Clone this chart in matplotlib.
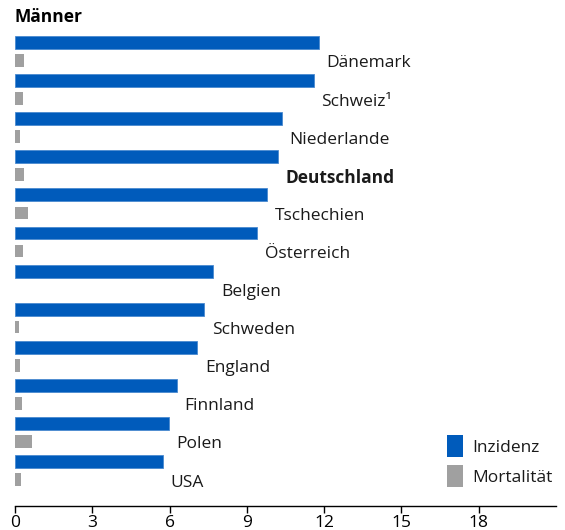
import numpy as np
import matplotlib.pyplot as plt
from matplotlib.patches import Rectangle

plt.rcParams['font.family'] = ['Open Sans', 'DejaVu Sans']

laender = ['Dänemark', 'Schweiz¹', 'Niederlande', 'Deutschland', 'Tschechien', 'Österreich',
           'Belgien', 'Schweden', 'England', 'Finnland', 'Polen', 'USA']
inzidenz = [11.8, 11.6, 10.35, 10.2, 9.8, 9.4, 7.7, 7.35, 7.07, 6.28, 5.98, 5.73]
mortalitaet = [0.34, 0.3, 0.2, 0.34, 0.5, 0.3, 0.0, 0.15, 0.19, 0.26, 0.67, 0.24]
xticks = [0, 3, 6, 9, 12, 15, 18]
legende = ['Inzidenz', 'Mortalität']

blau = '#005bbb'
grau = '#a0a0a0'
fs = 12.5

fig = plt.figure(figsize=(5.65, 5.30), dpi=100)
W, H = 565, 530
ax = fig.add_axes([15 / W, 24 / H, (556 - 15) / W, (506 - 30) / H])

y = np.arange(len(laender))
ax.barh(y, inzidenz, height=0.34, color=blau, edgecolor='#4a8ad0', linewidth=0.6)
ax.barh(y + 0.47, mortalitaet, height=0.33, color=grau, linewidth=0)

for i, (name, v) in enumerate(zip(laender, inzidenz)):
    ax.annotate(name, (v, i + 0.55), xytext=(5.5, 0), textcoords='offset points',
                va='center', ha='left', fontsize=fs, color='#1a1a1a',
                fontweight='bold' if name == 'Deutschland' else 'normal')

ax.set_xlim(0, 21)
ax.set_ylim(12.165, -0.328)
ax.set_xticks(xticks)
ax.set_xticklabels([str(t) for t in xticks], fontsize=fs)
ax.set_yticks([])
for s in ['left', 'right', 'top']:
    ax.spines[s].set_visible(False)
ax.spines['bottom'].set_linewidth(1.0)
ax.tick_params(axis='x', direction='out', length=5, width=1.0, pad=1.5)

fig.text(15 / W, 1 - 17 / H, 'Männer', fontsize=fs, fontweight='bold', va='center', ha='left')

# Legende von Hand, Lage in Pixeln der Abbildung
for k, (lab, col) in enumerate(zip(legende, [blau, grau])):
    top = 435 + k * 30
    fig.add_artist(Rectangle((447 / W, 1 - (top + 22) / H), 16 / W, 22 / H,
                             transform=fig.transFigure, facecolor=col, edgecolor='none'))
    fig.text(472 / W, 1 - (top + 13) / H, lab, fontsize=fs, va='center', ha='left', color='#1a1a1a')

fig.savefig('out.png', dpi=100)
